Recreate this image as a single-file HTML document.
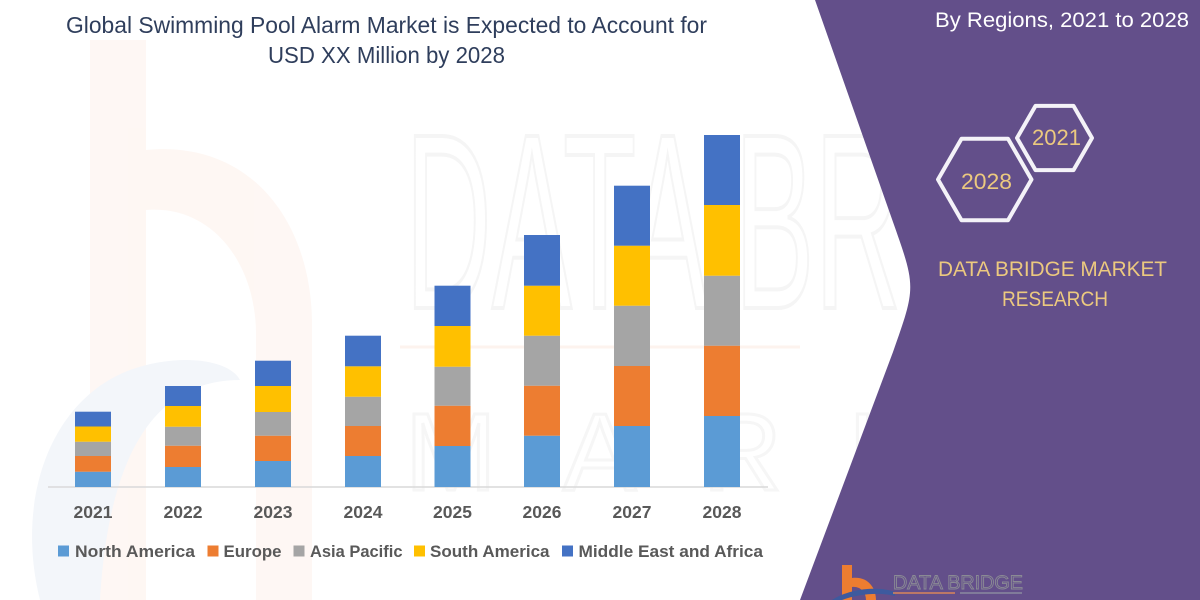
<!DOCTYPE html>
<html>
<head>
<meta charset="utf-8">
<style>
html,body{margin:0;padding:0;background:#fff;}
svg{display:block;}
text{font-family:"Liberation Sans",sans-serif;}
</style>
</head>
<body>
<svg width="1200" height="600" viewBox="0 0 1200 600" xmlns="http://www.w3.org/2000/svg">
  <rect x="0" y="0" width="1200" height="600" fill="#ffffff"/>

  <!-- faint watermark logo 'b' -->
  <g opacity="0.45">
    <rect x="90" y="40" width="56" height="560" fill="#fdeee6"/>
    <path d="M146,150 C250,140 310,220 312,320 L312,600 L256,600 L256,330 C254,260 210,205 146,210 Z" fill="#fdeee6"/>
  </g>
  <path d="M40,600 C15,500 50,400 130,370 C180,352 230,360 240,380 C170,380 110,430 100,600 Z" fill="#f3f6fa"/>

  <!-- faint DATA BRIDGE watermark -->
  <text x="405" y="308" font-size="250" fill="none" stroke="#f5f5f5" stroke-width="4" textLength="790" lengthAdjust="spacingAndGlyphs">DATA BRIDGE</text>
  <line x1="400" y1="347" x2="800" y2="347" stroke="#fdf3ee" stroke-width="3"/>
  <text x="405" y="490" font-size="110" fill="none" stroke="#f6f6f6" stroke-width="3" textLength="790" lengthAdjust="spacing">MARKET</text>

  <!-- purple panel -->
  <path d="M815,0 L893,222 C916,287 916,287 893,352 L800,600 L1200,600 L1200,0 Z" fill="#634f8a"/>

  <!-- title -->
  <text x="66" y="33" font-size="23" fill="#2f3e5c" textLength="641" lengthAdjust="spacingAndGlyphs">Global Swimming Pool Alarm Market is Expected to Account for</text>
  <text x="268" y="63" font-size="23" fill="#2f3e5c" textLength="237" lengthAdjust="spacingAndGlyphs">USD XX Million by 2028</text>

  <!-- right panel text -->
  <text x="935" y="27" font-size="21" fill="#ffffff" textLength="254" lengthAdjust="spacingAndGlyphs">By Regions, 2021 to 2028</text>

  <!-- hexagons -->
  <polygon points="1017,138 1035.5,105.9 1073.5,105.9 1092,138 1073.5,170.1 1035.5,170.1" fill="none" stroke="#f4f2f8" stroke-width="4" stroke-linejoin="round"/>
  <polygon points="938,179.5 961.5,138.8 1008,138.8 1031.5,179.5 1008,220.2 961.5,220.2" fill="none" stroke="#f4f2f8" stroke-width="4" stroke-linejoin="round"/>
  <text x="1032" y="145" font-size="22" fill="#ecc97f" textLength="49" lengthAdjust="spacingAndGlyphs">2021</text>
  <text x="961" y="189" font-size="22" fill="#ecc97f" textLength="51" lengthAdjust="spacingAndGlyphs">2028</text>

  <text x="938" y="276" font-size="21.5" fill="#ecc97f" textLength="229" lengthAdjust="spacingAndGlyphs">DATA BRIDGE MARKET</text>
  <text x="1002" y="306" font-size="21.5" fill="#ecc97f" textLength="106" lengthAdjust="spacingAndGlyphs">RESEARCH</text>

  <!-- bottom logo -->
  <rect x="842" y="565" width="10" height="35" fill="#ed7d31"/>
  <path d="M852,578 C868,576 876,588 876,600 L866,600 C866,592 860,586 852,587 Z" fill="#ed7d31"/>
  <path d="M832,600 C850,588 880,586 895,592 L895,596 C880,592 858,594 842,600 Z" fill="#3d5a9e"/>
  <text x="893" y="589" font-size="19" fill="none" stroke="#8a8a94" stroke-width="0.9" textLength="130" lengthAdjust="spacingAndGlyphs">DATA BRIDGE</text>
  <line x1="893" y1="593" x2="955" y2="593" stroke="#d9865a" stroke-width="1.5"/>
  <line x1="960" y1="593" x2="1022" y2="593" stroke="#8a8aa0" stroke-width="1.5"/>

  <!-- axis -->
  <line x1="48" y1="487" x2="768" y2="487" stroke="#d9d9d9" stroke-width="1.5"/>

  <!-- 2021 -->
  <rect x="75" y="471.7" width="36" height="15.3" fill="#5b9bd5"/>
  <rect x="75" y="456" width="36" height="15.7" fill="#ed7d31"/>
  <rect x="75" y="441.7" width="36" height="14.3" fill="#a5a5a5"/>
  <rect x="75" y="426.5" width="36" height="15.2" fill="#ffc000"/>
  <rect x="75" y="411.7" width="36" height="14.8" fill="#4472c4"/>
  <!-- 2022 -->
  <rect x="165" y="467" width="36" height="20" fill="#5b9bd5"/>
  <rect x="165" y="445.7" width="36" height="21.3" fill="#ed7d31"/>
  <rect x="165" y="426.7" width="36" height="19" fill="#a5a5a5"/>
  <rect x="165" y="406" width="36" height="20.7" fill="#ffc000"/>
  <rect x="165" y="386" width="36" height="20" fill="#4472c4"/>
  <!-- 2023 -->
  <rect x="255" y="461" width="36" height="26" fill="#5b9bd5"/>
  <rect x="255" y="435.7" width="36" height="25.3" fill="#ed7d31"/>
  <rect x="255" y="412" width="36" height="23.7" fill="#a5a5a5"/>
  <rect x="255" y="386" width="36" height="26" fill="#ffc000"/>
  <rect x="255" y="360.7" width="36" height="25.3" fill="#4472c4"/>
  <!-- 2024 -->
  <rect x="345" y="456" width="36" height="31" fill="#5b9bd5"/>
  <rect x="345" y="426" width="36" height="30" fill="#ed7d31"/>
  <rect x="345" y="396.7" width="36" height="29.3" fill="#a5a5a5"/>
  <rect x="345" y="366.3" width="36" height="30.4" fill="#ffc000"/>
  <rect x="345" y="335.7" width="36" height="30.6" fill="#4472c4"/>
  <!-- 2025 -->
  <rect x="434.5" y="446" width="36" height="41" fill="#5b9bd5"/>
  <rect x="434.5" y="405.7" width="36" height="40.3" fill="#ed7d31"/>
  <rect x="434.5" y="366.7" width="36" height="39" fill="#a5a5a5"/>
  <rect x="434.5" y="326" width="36" height="40.7" fill="#ffc000"/>
  <rect x="434.5" y="285.7" width="36" height="40.3" fill="#4472c4"/>
  <!-- 2026 -->
  <rect x="524" y="435.7" width="36" height="51.3" fill="#5b9bd5"/>
  <rect x="524" y="385.7" width="36" height="50" fill="#ed7d31"/>
  <rect x="524" y="335.7" width="36" height="50" fill="#a5a5a5"/>
  <rect x="524" y="285.7" width="36" height="50" fill="#ffc000"/>
  <rect x="524" y="235" width="36" height="50.7" fill="#4472c4"/>
  <!-- 2027 -->
  <rect x="614" y="426" width="36" height="61" fill="#5b9bd5"/>
  <rect x="614" y="366" width="36" height="60" fill="#ed7d31"/>
  <rect x="614" y="305.7" width="36" height="60.3" fill="#a5a5a5"/>
  <rect x="614" y="245.7" width="36" height="60" fill="#ffc000"/>
  <rect x="614" y="185.7" width="36" height="60" fill="#4472c4"/>
  <!-- 2028 -->
  <rect x="704" y="416" width="36" height="71" fill="#5b9bd5"/>
  <rect x="704" y="345.7" width="36" height="70.3" fill="#ed7d31"/>
  <rect x="704" y="275.7" width="36" height="70" fill="#a5a5a5"/>
  <rect x="704" y="205" width="36" height="70.7" fill="#ffc000"/>
  <rect x="704" y="135" width="36" height="70" fill="#4472c4"/>

  <!-- year labels -->
  <g font-size="17.5" font-weight="bold" fill="#595959" text-anchor="middle">
    <text x="93" y="518">2021</text>
    <text x="183" y="518">2022</text>
    <text x="273" y="518">2023</text>
    <text x="363" y="518">2024</text>
    <text x="452.5" y="518">2025</text>
    <text x="542" y="518">2026</text>
    <text x="632" y="518">2027</text>
    <text x="722" y="518">2028</text>
  </g>

  <!-- legend -->
  <rect x="58" y="545.5" width="11" height="11" fill="#5b9bd5"/>
  <rect x="207.5" y="545.5" width="11" height="11" fill="#ed7d31"/>
  <rect x="293.5" y="545.5" width="11" height="11" fill="#a5a5a5"/>
  <rect x="414" y="545.5" width="11" height="11" fill="#ffc000"/>
  <rect x="562" y="545.5" width="11" height="11" fill="#4472c4"/>
  <g font-size="17" font-weight="bold" fill="#595959">
    <text x="75" y="557" textLength="120" lengthAdjust="spacingAndGlyphs">North America</text>
    <text x="223.5" y="557" textLength="58" lengthAdjust="spacingAndGlyphs">Europe</text>
    <text x="310" y="557" textLength="92.5" lengthAdjust="spacingAndGlyphs">Asia Pacific</text>
    <text x="430" y="557" textLength="119.5" lengthAdjust="spacingAndGlyphs">South America</text>
    <text x="578.5" y="557" textLength="184.5" lengthAdjust="spacingAndGlyphs">Middle East and Africa</text>
  </g>
</svg>
</body>
</html>
